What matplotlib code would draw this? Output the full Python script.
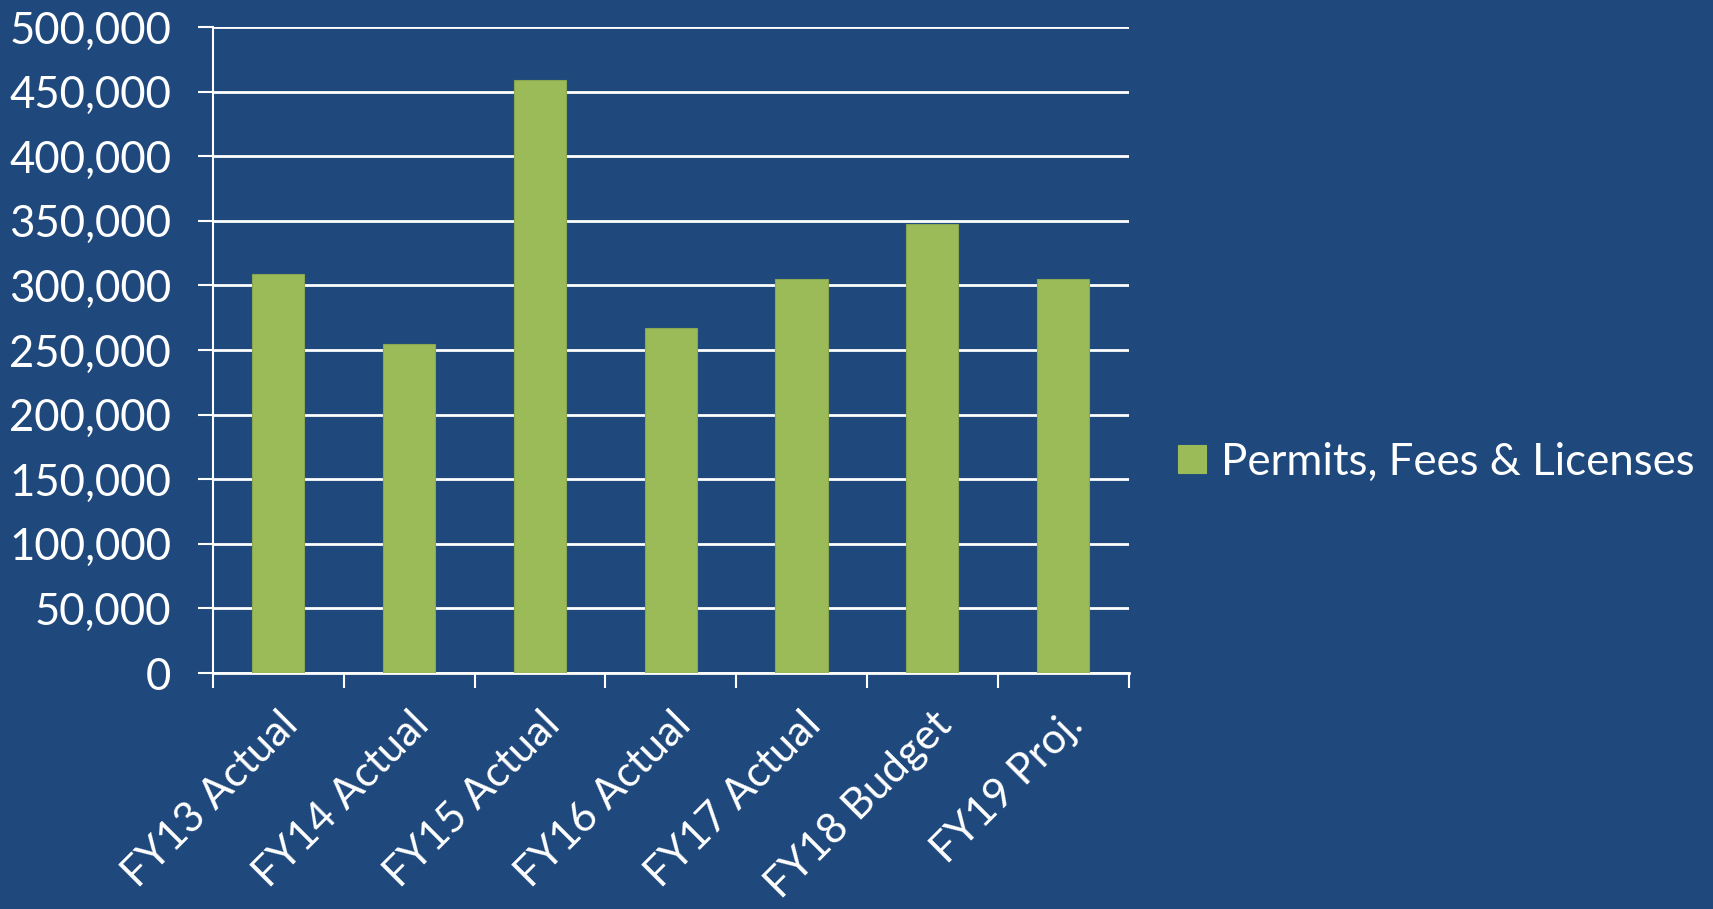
import matplotlib
matplotlib.use("Agg")
import matplotlib.pyplot as plt
from matplotlib.ticker import FuncFormatter, FixedLocator

# data
categories = ["FY13 Actual", "FY14 Actual", "FY15 Actual", "FY16 Actual",
              "FY17 Actual", "FY18 Budget", "FY19 Proj."]
permits_fees = [309000, 254500, 459300, 267100, 305000, 347400, 305000]
series_name = "Permits, Fees & Licenses"
y_ticks = list(range(0, 500001, 50000))

BG = "#1F497D"
GREEN = "#9BBB59"

plt.rcParams["font.family"] = ["Lato", "DejaVu Sans"]

fig = plt.figure(figsize=(17.13, 9.09), dpi=100, facecolor=BG)
ax = fig.add_axes([0.1243, 0.2596, 0.5345, 0.7107])
ax.set_facecolor(BG)

x = list(range(len(categories)))
ax.bar(x, permits_fees, width=0.4, color=GREEN, edgecolor="#8AA650",
       linewidth=0.8, label=series_name, zorder=3)

ax.set_xlim(-0.5, len(categories) - 0.5)
ax.set_ylim(0, 500000)

# gridlines
ax.set_yticks(y_ticks)
ax.yaxis.set_major_formatter(FuncFormatter(lambda v, p: f"{int(v):,}"))
ax.grid(axis="y", color="white", linewidth=2, zorder=1)

# x ticks: marks at category borders, labels at centres
ax.xaxis.set_major_locator(FixedLocator([i - 0.5 for i in range(len(categories) + 1)]))
ax.xaxis.set_major_formatter(FuncFormatter(lambda v, p: ""))
ax.set_xticks(x, minor=True)
ax.set_xticklabels(categories, minor=True, rotation=45, ha="right",
                   rotation_mode="anchor", fontsize=30.5, color="white")
ax.tick_params(axis="x", which="minor", length=0, pad=23)
ax.tick_params(axis="x", which="major", length=11, width=1.5, color="white", direction="out")
ax.tick_params(axis="y", length=11, width=1.5, color="white", direction="out",
               labelsize=31.5, labelcolor="white", pad=19)

for side in ["top", "right"]:
    ax.spines[side].set_visible(False)
ax.spines["left"].set_color("white")
ax.spines["left"].set_linewidth(1.5)
ax.spines["bottom"].set_color("white")
ax.spines["bottom"].set_linewidth(2)

leg = fig.legend(loc="center left", bbox_to_anchor=(1139 / 1713, 1 - 462 / 909),
                 frameon=False, fontsize=31.5, labelcolor="white",
                 handlelength=0.62, handleheight=0.62, handletextpad=0.35)
for h in leg.legend_handles:
    h.set_edgecolor(GREEN)

fig.savefig("out.png", dpi=100, facecolor=BG)
